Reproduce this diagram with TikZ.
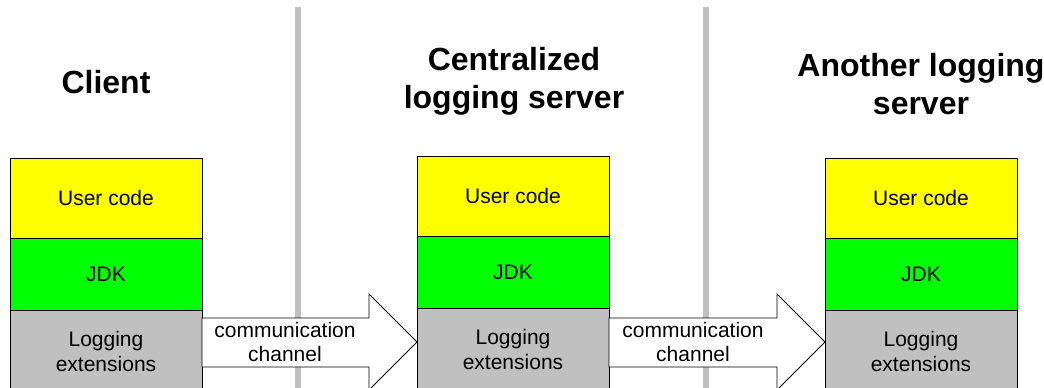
\documentclass[tikz,border=0pt]{standalone}
\usepackage{fontspec}
\setmainfont{Liberation Sans}
\usetikzlibrary{calc}
\definecolor{usercol}{HTML}{FFFF00}
\definecolor{jdkcol}{HTML}{00FF00}
\definecolor{logcol}{HTML}{C0C0C0}
\definecolor{sepcol}{HTML}{C0C0C0}
\tikzset{
  layer/.style={draw=black, line width=0.8pt, inner sep=0pt, outer sep=0pt,
    anchor=north west, minimum width=192pt, align=center,
    font=\fontsize{21}{25}\selectfont},
  userbox/.style={layer, fill=usercol, minimum height=80pt},
  jdkbox/.style={layer, fill=jdkcol, minimum height=72pt},
  logbox/.style={layer, fill=logcol, minimum height=82pt},
  title/.style={align=center, font=\bfseries\fontsize{32}{38}\selectfont},
  chan/.style={draw=black, line width=0.8pt, fill=white},
  chanlabel/.style={align=center, font=\fontsize{21}{24}\selectfont},
  divider/.style={draw=sepcol, line width=6pt}
}
\begin{document}
\begin{tikzpicture}[x=1pt, y=-1pt]
\useasboundingbox (0,0) rectangle (1044,388);
\clip (0,0) rectangle (1044,388);

% vertical separators between the three machines
\coordinate (s1top) at (298,7);
\coordinate (s1bot) at (298,392);
\coordinate (s2top) at (706,7);
\coordinate (s2bot) at (706,392);
\draw[divider] (s1top) -- (s1bot);
\draw[divider] (s2top) -- (s2bot);

% client stack
\node[userbox] (user1) at (10,158) {User code};
\node[jdkbox]  (jdk1)  at (user1.south west) {JDK};
\node[logbox]  (log1)  at (jdk1.south west) {Logging\\extensions};
\node[title] (t1) at (106,82) {Client};

% centralized server stack
\node[userbox] (user2) at (417,156) {User code};
\node[jdkbox]  (jdk2)  at (user2.south west) {JDK};
\node[logbox]  (log2)  at (jdk2.south west) {Logging\\extensions};
\node[title] (t2) at (514,81) {Centralized\\logging server};

% second server stack
\node[userbox] (user3) at (825,158) {User code};
\node[jdkbox]  (jdk3)  at (user3.south west) {JDK};
\node[logbox]  (log3)  at (jdk3.south west) {Logging\\extensions};
\node[title] (t3) at (921,84) {Another logging\\server};

% block arrows for the communication channels
\draw[chan] let \p1=(log1.east), \p2=(log2.west) in
  (\x1,-318pt) -- (\x2-48pt,-318pt) -- (\x2-48pt,-294pt) -- (\x2,-342pt)
  -- (\x2-48pt,-390pt) -- (\x2-48pt,-367pt) -- (\x1,-367pt) -- cycle;
\draw[chan] let \p1=(log2.east), \p2=(log3.west) in
  (\x1,-318pt) -- (\x2-48pt,-318pt) -- (\x2-48pt,-294pt) -- (\x2,-342pt)
  -- (\x2-48pt,-390pt) -- (\x2-48pt,-367pt) -- (\x1,-367pt) -- cycle;
\node[chanlabel] (c1) at (285,342) {communication\\channel};
\node[chanlabel] (c2) at (693,342) {communication\\channel};
\end{tikzpicture}
\end{document}
